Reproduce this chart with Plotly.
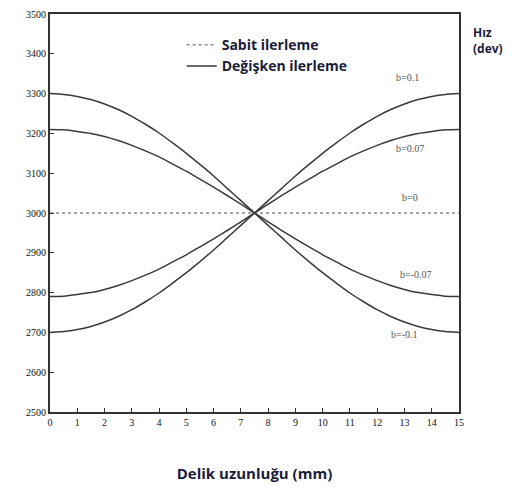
import plotly.graph_objects as go

# Hole length (mm)
x_vals = [0, 0.5, 1, 1.5, 2, 2.5, 3, 3.5, 4, 4.5, 5, 5.5, 6, 6.5, 7, 7.5,
          8, 8.5, 9, 9.5, 10, 10.5, 11, 11.5, 12, 12.5, 13, 13.5, 14, 14.5, 15]

# Spindle speed (rev) for each b value
speed_b_pos_010 = [2700, 2702, 2707, 2715, 2726, 2740, 2757, 2777, 2799, 2824, 2850, 2878, 2907, 2938, 2969, 3000,
                   3031, 3062, 3093, 3122, 3150, 3176, 3201, 3223, 3243, 3260, 3274, 3285, 3293, 3298, 3300]
speed_b_pos_007 = [2790, 2791, 2795, 2800, 2808, 2818, 2830, 2844, 2859, 2877, 2895, 2915, 2935, 2956, 2978, 3000,
                   3022, 3044, 3065, 3085, 3105, 3123, 3141, 3156, 3170, 3182, 3192, 3200, 3205, 3209, 3210]
speed_b_zero = [3000] * len(x_vals)
speed_b_neg_007 = [3210, 3209, 3205, 3200, 3192, 3182, 3170, 3156, 3141, 3123, 3105, 3085, 3065, 3044, 3022, 3000,
                   2978, 2956, 2935, 2915, 2895, 2877, 2859, 2844, 2830, 2818, 2808, 2800, 2795, 2791, 2790]
speed_b_neg_010 = [3300, 3298, 3293, 3285, 3274, 3260, 3243, 3223, 3201, 3176, 3150, 3122, 3093, 3062, 3031, 3000,
                   2969, 2938, 2907, 2878, 2850, 2824, 2799, 2777, 2757, 2740, 2726, 2715, 2707, 2702, 2700]

curve_labels = ["b=0.1", "b=0.07", "b=0", "b=-0.07", "b=-0.1"]
label_x = [13.1, 13.2, 13.2, 13.4, 13.0]
label_y = [3340, 3162, 3040, 2846, 2695]

x_ticks = list(range(0, 16))
y_ticks = list(range(2500, 3501, 100))

line_col = "#3a3a3a"
text_col = "#1b1b3a"
fig = go.Figure()

fig.add_trace(go.Scatter(x=x_vals, y=speed_b_zero, mode="lines", name="Sabit ilerleme",
                         line=dict(color="#8a8a8a", width=1.5, dash="dot")))
solid = [speed_b_pos_010, speed_b_pos_007, speed_b_neg_007, speed_b_neg_010]
for i, s in enumerate(solid):
    fig.add_trace(go.Scatter(x=x_vals, y=s, mode="lines", name="Değişken ilerleme",
                             showlegend=(i == 0),
                             line=dict(color=line_col, width=1.5, shape="spline", smoothing=0.6)))

for t, lx, ly in zip(curve_labels, label_x, label_y):
    fig.add_annotation(x=lx, y=ly, text=t, showarrow=False,
                       font=dict(family="Liberation Serif", size=10, color="#555555"))

fig.add_annotation(xref="paper", yref="paper", x=1.029, y=0.98, xanchor="left", yanchor="top",
                   text="Hız<br>(dev)", showarrow=False, align="left",
                   font=dict(family="Open Sans", size=12, color=text_col, weight=700))

tickfont = dict(family="Liberation Serif", size=10, color="#111111")
fig.update_xaxes(range=[0, 15], tickvals=x_ticks, ticks="inside", ticklen=4, tickcolor="#333",
                 showline=True, linewidth=2, linecolor="#333", mirror=True, showgrid=False,
                 zeroline=False, tickfont=tickfont, automargin=False,
                 title=dict(text="Delik uzunluğu (mm)", standoff=43,
                            font=dict(family="Open Sans", size=15, color=text_col, weight=700)))
fig.update_yaxes(range=[2500, 3500], tickvals=y_ticks, ticks="inside", ticklen=4, tickcolor="#333",
                 showline=True, linewidth=2, linecolor="#333", mirror=True, showgrid=False,
                 zeroline=False, tickfont=tickfont, automargin=False)

fig.update_layout(
    width=500, height=475,
    margin=dict(l=42, r=49, t=6, b=71),
    plot_bgcolor="white", paper_bgcolor="white",
    legend=dict(x=0.322, y=0.962, xanchor="left", yanchor="top", bgcolor="rgba(0,0,0,0)",
                font=dict(family="Open Sans", size=14, color=text_col, weight=700),
                itemwidth=30, tracegroupgap=0),
)

fig.write_html("out.html")
